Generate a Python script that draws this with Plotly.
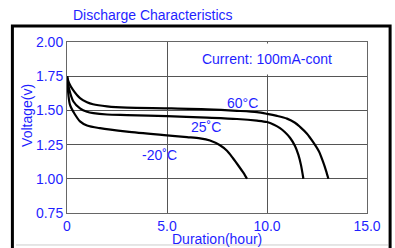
import plotly.graph_objects as go

# Data
t60 = [0, 0.1, 0.3, 0.65, 1.0, 1.3, 2.0, 3.0, 5.0, 7.0, 8.5, 9.5, 10.0, 10.5, 11.0, 11.4, 11.65, 12.0, 12.3, 12.6, 12.8, 12.95, 13.07]
v60 = [1.75, 1.70, 1.65, 1.59, 1.56, 1.545, 1.53, 1.52, 1.515, 1.508, 1.497, 1.487, 1.475, 1.46, 1.44, 1.41, 1.38, 1.33, 1.27, 1.20, 1.125, 1.06, 1.0]

t25 = [0, 0.1, 0.32, 0.65, 1.0, 1.32, 2.0, 3.0, 5.0, 7.0, 8.5, 9.5, 10.0, 10.35, 10.65, 10.9, 11.15, 11.4, 11.57, 11.7, 11.82]
v25 = [1.75, 1.66, 1.565, 1.515, 1.49, 1.48, 1.47, 1.466, 1.458, 1.447, 1.437, 1.425, 1.415, 1.395, 1.37, 1.34, 1.30, 1.24, 1.175, 1.10, 1.0]

tm20 = [0, 0.15, 0.4, 0.65, 1.0, 1.65, 3.0, 5.0, 6.0, 6.65, 7.15, 7.65, 8.0, 8.3, 8.6, 8.8, 8.92, 9.0]
vm20 = [1.75, 1.54, 1.47, 1.42, 1.39, 1.37, 1.345, 1.318, 1.305, 1.296, 1.28, 1.245, 1.205, 1.15, 1.09, 1.048, 1.02, 1.0]

x_ticks = [0, 5, 10, 15]
x_tick_labels = ["0", "5.0", "10.0", "15.0"]
y_ticks = [0.75, 1.0, 1.25, 1.5, 1.75, 2.0]
y_tick_labels = ["0.75", "1.00", "1.25", "1.50", "1.75", "2.00"]

curve_labels = ["60°C", "25˚C", "-20˚C"]
label_x = [8.75, 6.95, 4.6]
label_y = [1.555, 1.38, 1.175]

BLUE = "#1f1fff"
FONT = "Liberation Sans, Arial, sans-serif"
GRID = "#555555"
FS = 14

fig = go.Figure()
for t, v in [(t60, v60), (t25, v25), (tm20, vm20)]:
    fig.add_trace(go.Scatter(x=t, y=v, mode="lines",
                             line=dict(color="black", width=2.2, shape="spline", smoothing=0.8),
                             showlegend=False, hoverinfo="skip"))

for txt, lx, ly in zip(curve_labels, label_x, label_y):
    fig.add_annotation(x=lx, y=ly, text=txt, showarrow=False,
                       font=dict(family=FONT, size=FS, color=BLUE))

fig.add_annotation(x=10, y=1.876, text="Current: 100mA-cont", showarrow=False,
                   font=dict(family=FONT, size=FS, color=BLUE),
                   bgcolor="white", width=150, height=30, borderpad=0)

# axis titles
fig.add_annotation(xref="paper", yref="paper", x=0.5, y=-0.152, yanchor="middle",
                   text="Duration(hour)", showarrow=False,
                   font=dict(family=FONT, size=FS, color=BLUE))
fig.add_annotation(xref="paper", yref="paper", x=-0.167, y=0.573, text="Voltage(v)",
                   textangle=-90, showarrow=False, font=dict(family=FONT, size=FS, color=BLUE))

# outer frame
fig.add_shape(type="rect", xref="paper", yref="paper",
              x0=-0.182, x1=1.077, y0=-0.25, y1=1.094,
              line=dict(color="black", width=3), layer="below")
fig.add_shape(type="line", xref="paper", yref="paper",
              x0=-0.17, x1=1.07, y0=-0.187, y1=-0.187,
              line=dict(color="#cccccc", width=1), layer="below")

fig.update_layout(
    width=395, height=248,
    margin=dict(l=67, r=28, t=42, b=35, autoexpand=False),
    paper_bgcolor="white", plot_bgcolor="white",
    title=dict(text="Discharge Characteristics", x=73/395, xanchor="left",
               y=1 - 15/248, yanchor="middle", automargin=False,
               font=dict(family=FONT, size=FS, color=BLUE)),
    xaxis=dict(range=[0, 15], tickvals=x_ticks, ticktext=x_tick_labels,
               showgrid=True, gridcolor=GRID, gridwidth=1, automargin=False,
               showline=True, linecolor="#666666", linewidth=1, mirror=True,
               ticks="", zeroline=False,
               tickfont=dict(family=FONT, size=FS, color=BLUE)),
    yaxis=dict(range=[0.75, 2.0], tickvals=y_ticks, ticktext=y_tick_labels,
               showgrid=True, gridcolor=GRID, gridwidth=1, automargin=False,
               showline=True, linecolor="#666666", linewidth=1, mirror=True,
               ticks="", zeroline=False,
               tickfont=dict(family=FONT, size=FS, color=BLUE)),
)

fig.write_html("out.html", config={"displayModeBar": False},
               post_script="document.body.style.margin='0';")
